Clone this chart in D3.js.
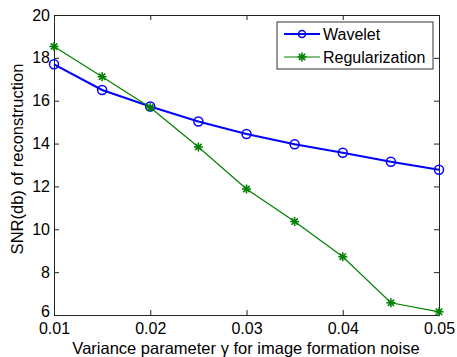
<!DOCTYPE html>
<html>
<head>
<meta charset="utf-8">
<script src="https://cdn.jsdelivr.net/npm/d3@7"></script>
<style>
  body { margin: 0; background: #fff; }
  text { font-family: "Liberation Sans", Arial, sans-serif; fill: #000; }
</style>
</head>
<body>
<div id="chart"></div>
<script>
/* DATA */
const gammas = [0.01, 0.015, 0.02, 0.025, 0.03, 0.035, 0.04, 0.045, 0.05];
const wavelet = [17.7, 16.5, 15.73, 15.03, 14.45, 13.97, 13.57, 13.15, 12.78];
const regularization = [18.53, 17.12, 15.68, 13.84, 11.88, 10.36, 8.72, 6.57, 6.15];
const xTicks = [0.01, 0.02, 0.03, 0.04, 0.05];
const yTicks = [6, 8, 10, 12, 14, 16, 18, 20];

const width = 457,
  height = 357,
  margin = { top: 15, bottom: 42, left: 54, right: 18 };

const svg = d3.select("#chart")
  .append("svg")
  .attr("width", width)
  .attr("height", height);

const xScale = d3.scaleLinear()
  .domain([0.01, 0.05])
  .range([margin.left, width - margin.right]);

const yScale = d3.scaleLinear()
  .domain([6, 20])
  .range([height - margin.bottom, margin.top]);

// axes box with inward ticks (matlab style)
const tickLen = 5;
const axisG = svg.append("g").attr("class", "axes");

axisG.append("g")
  .attr("transform", `translate(0,${height - margin.bottom})`)
  .call(d3.axisBottom(xScale).tickValues(xTicks).tickSizeInner(-tickLen).tickSizeOuter(0).tickPadding(8).tickFormat(d3.format(".2f")))
  .call(g => g.selectAll("text").attr("font-size", 16));

axisG.append("g")
  .attr("transform", `translate(0,${margin.top})`)
  .call(d3.axisTop(xScale).tickValues(xTicks).tickSizeInner(-tickLen).tickSizeOuter(0).tickFormat(""));

axisG.append("g")
  .attr("transform", `translate(${margin.left},0)`)
  .call(d3.axisLeft(yScale).tickValues(yTicks).tickSizeInner(-tickLen).tickSizeOuter(0).tickPadding(4))
  .call(g => g.selectAll("text").attr("font-size", 16))
  // lift the bottom label a little so it clears 0.01
  .call(g => g.selectAll(".tick").filter(d => d === 6).select("text").attr("dy", "0.12em"));

axisG.append("g")
  .attr("transform", `translate(${width - margin.right},0)`)
  .call(d3.axisRight(yScale).tickValues(yTicks).tickSizeInner(-tickLen).tickSizeOuter(0).tickFormat(""));

axisG.selectAll("path.domain").attr("stroke", "#222");
axisG.selectAll(".tick line").attr("stroke", "#222");

// axis labels
svg.append("text")
  .attr("x", 246)
  .attr("y", 354)
  .attr("text-anchor", "middle")
  .attr("font-size", 16.5)
  .text("Variance parameter γ for image formation noise");

svg.append("text")
  .attr("transform", "translate(23,159) rotate(-90)")
  .attr("text-anchor", "middle")
  .attr("font-size", 16.5)
  .text("SNR(db) of reconstruction");

// lines
const lineFunc = d3.line()
  .x((d, i) => xScale(gammas[i]))
  .y(d => yScale(d));

const series = [
  { name: "Wavelet", values: wavelet, color: "#0000ff", width: 2, marker: "circle" },
  { name: "Regularization", values: regularization, color: "#008000", width: 1.2, marker: "star" }
];

function drawMarker(g, type, color) {
  if (type === "circle") {
    g.append("circle").attr("r", 4.5).attr("fill", "none").attr("stroke", color).attr("stroke-width", 1.5);
  } else {
    const r = 4.5;
    [0, 45, 90, 135].forEach(a => {
      const rad = a * Math.PI / 180;
      g.append("line")
        .attr("x1", -r * Math.cos(rad)).attr("y1", -r * Math.sin(rad))
        .attr("x2", r * Math.cos(rad)).attr("y2", r * Math.sin(rad))
        .attr("stroke", color).attr("stroke-width", 1.6);
    });
  }
}

series.forEach(s => {
  svg.append("path")
    .datum(s.values)
    .attr("fill", "none")
    .attr("stroke", s.color)
    .attr("stroke-width", s.width)
    .attr("d", lineFunc);

  s.values.forEach((v, i) => {
    const g = svg.append("g").attr("transform", `translate(${xScale(gammas[i])},${yScale(v)})`);
    drawMarker(g, s.marker, s.color);
  });
});

// legend
const legend = svg.append("g").attr("transform", "translate(277,22)");
legend.append("rect")
  .attr("width", 156).attr("height", 47)
  .attr("fill", "#fff").attr("stroke", "#333").attr("stroke-width", 1);

series.forEach((s, i) => {
  const y = 12 + i * 23;
  legend.append("line")
    .attr("x1", 7).attr("x2", 43).attr("y1", y).attr("y2", y)
    .attr("stroke", s.color).attr("stroke-width", s.width);
  const m = legend.append("g").attr("transform", `translate(25,${y})`);
  if (s.marker === "circle") {
    m.append("circle").attr("r", 3.5).attr("fill", "none").attr("stroke", s.color).attr("stroke-width", 1.5);
  } else {
    drawMarker(m, s.marker, s.color);
  }
  legend.append("text")
    .attr("x", 46).attr("y", y)
    .attr("dy", "0.35em")
    .attr("font-size", 16)
    .text(s.name);
});
</script>
</body>
</html>
